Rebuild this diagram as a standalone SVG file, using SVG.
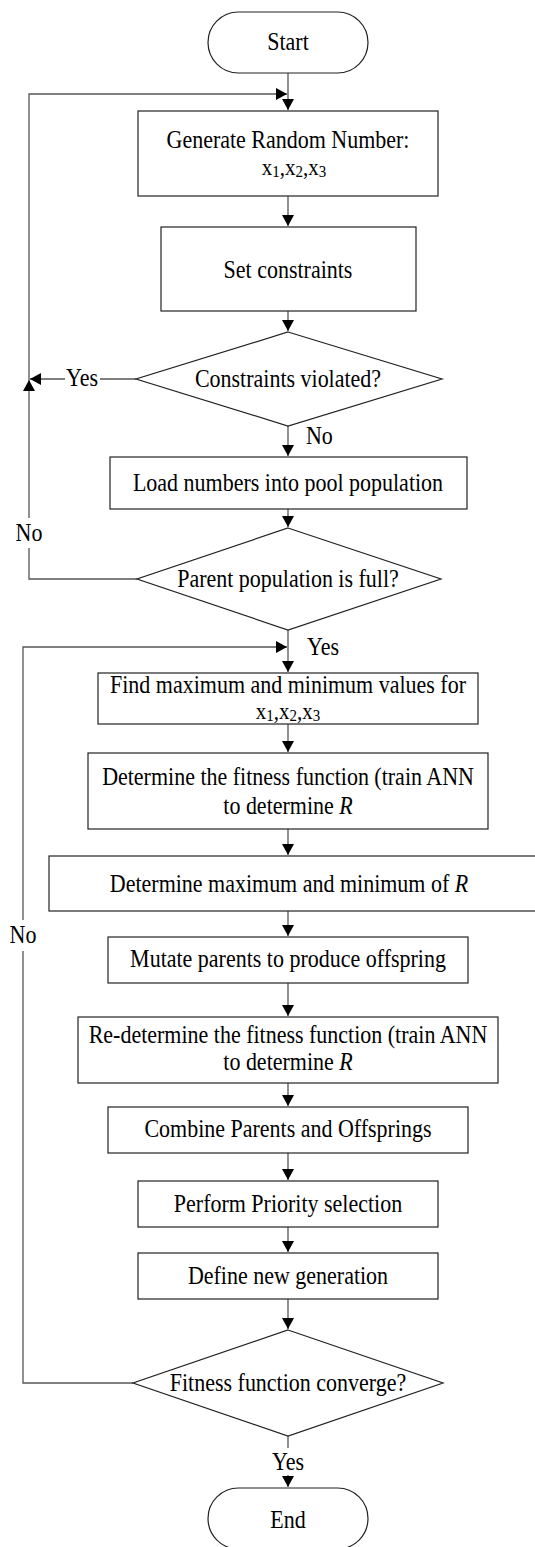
<svg xmlns="http://www.w3.org/2000/svg" width="535" height="1547" viewBox="0 0 535 1547">
<style>
.n{fill:#fff;stroke:#222;stroke-width:1.2}
.c{fill:none;stroke:#555;stroke-width:1.3}
text{font-family:"Liberation Serif","Times New Roman",serif;font-size:22px;fill:#000;text-anchor:middle}
.l{text-anchor:start}
.x{font-size:21px}
.s{font-size:15px}
</style>
<defs>
<marker id="ah" markerUnits="userSpaceOnUse" markerWidth="12" markerHeight="12" refX="11" refY="6" orient="auto">
<path d="M0,0 L11,6 L0,12 z" fill="#000"/>
</marker>
</defs>
<g id="connectors">
<path class="c" d="M288,73 V110" marker-end="url(#ah)"/>
<path class="c" d="M288,196 V226" marker-end="url(#ah)"/>
<path class="c" d="M288,311 V331" marker-end="url(#ah)"/>
<path class="c" d="M136,379 H100"/>
<path class="c" d="M65,379 H30" marker-end="url(#ah)"/>
<path class="c" d="M288,426 V456" marker-end="url(#ah)"/>
<path class="c" d="M288,509 V527" marker-end="url(#ah)"/>
<path class="c" d="M137,579 H29 V548"/>
<path class="c" d="M29,518 V380" marker-end="url(#ah)"/>
<path class="c" d="M29,380 V94 H287" marker-end="url(#ah)"/>
<path class="c" d="M288,630 V672" marker-end="url(#ah)"/>
<path class="c" d="M133,1383 H23 V951"/>
<path class="c" d="M23,920 V647 H287" marker-end="url(#ah)"/>
<path class="c" d="M288,724 V752" marker-end="url(#ah)"/>
<path class="c" d="M288,829 V855" marker-end="url(#ah)"/>
<path class="c" d="M288,911 V936" marker-end="url(#ah)"/>
<path class="c" d="M288,983 V1016" marker-end="url(#ah)"/>
<path class="c" d="M288,1083 V1106" marker-end="url(#ah)"/>
<path class="c" d="M288,1153 V1180" marker-end="url(#ah)"/>
<path class="c" d="M288,1227 V1252" marker-end="url(#ah)"/>
<path class="c" d="M288,1299 V1329" marker-end="url(#ah)"/>
<path class="c" d="M288,1436 V1448"/>
<path class="c" d="M288,1475 V1487" marker-end="url(#ah)"/>
<text transform="translate(82,386) scale(1,1.15)">Yes</text>
<text class="l" transform="translate(306,444) scale(1,1.15)">No</text>
<text transform="translate(29,541) scale(1,1.15)">No</text>
<text class="l" transform="translate(307,655) scale(1,1.15)">Yes</text>
<text transform="translate(23,943) scale(1,1.15)">No</text>
<text transform="translate(288,1470) scale(1,1.15)">Yes</text>
</g>
<g id="start"><rect class="n" x="208" y="12" width="160" height="61" rx="30.5"/><text transform="translate(288,50) scale(1,1.15)">Start</text></g>
<g id="gen"><rect class="n" x="138" y="111" width="300" height="85"/><text transform="translate(288,148) scale(1,1.15)">Generate Random Number:</text><text class="x" transform="translate(294,175) scale(1,1.1)">x<tspan class="s" dy="2">1</tspan><tspan dy="-2">,x</tspan><tspan class="s" dy="2">2</tspan><tspan dy="-2">,x</tspan><tspan class="s" dy="2">3</tspan></text></g>
<g id="setc"><rect class="n" x="161" y="227" width="255" height="84"/><text transform="translate(288,278) scale(1,1.15)">Set constraints</text></g>
<g id="viol"><polygon class="n" points="288,332 442,379 288,426 136,379"/><text transform="translate(288,387) scale(1,1.15)">Constraints violated?</text></g>
<g id="load"><rect class="n" x="110" y="457" width="357" height="52"/><text transform="translate(288,491) scale(1,1.15)">Load numbers into pool population</text></g>
<g id="full"><polygon class="n" points="288,528 441,579 288,630 137,579"/><text transform="translate(288,587) scale(1,1.15)">Parent population is full?</text></g>
<g id="findmax"><rect class="n" x="98" y="673" width="380" height="51"/><text transform="translate(288,693) scale(1,1.15)">Find maximum and minimum values for</text><text class="x" transform="translate(288,719) scale(1,1.1)">x<tspan class="s" dy="2">1</tspan><tspan dy="-2">,x</tspan><tspan class="s" dy="2">2</tspan><tspan dy="-2">,x</tspan><tspan class="s" dy="2">3</tspan></text></g>
<g id="fit"><rect class="n" x="88" y="753" width="400" height="76"/><text transform="translate(288,785) scale(1,1.15)">Determine the fitness function (train ANN</text><text transform="translate(288,814) scale(1,1.15)">to determine <tspan font-style="italic">R</tspan></text></g>
<g id="maxr"><rect class="n" x="49" y="856" width="495" height="55"/><text transform="translate(289,892) scale(1,1.15)">Determine maximum and minimum of <tspan font-style="italic">R</tspan></text></g>
<g id="mutate"><rect class="n" x="108" y="937" width="360" height="46"/><text transform="translate(288,967) scale(1,1.15)">Mutate parents to produce offspring</text></g>
<g id="refit"><rect class="n" x="78" y="1017" width="420" height="66"/><text transform="translate(288,1043) scale(1,1.15)">Re-determine the fitness function (train ANN</text><text transform="translate(288,1070) scale(1,1.15)">to determine <tspan font-style="italic">R</tspan></text></g>
<g id="combine"><rect class="n" x="108" y="1107" width="360" height="46"/><text transform="translate(288,1137) scale(1,1.15)">Combine Parents and Offsprings</text></g>
<g id="priority"><rect class="n" x="138" y="1181" width="300" height="46"/><text transform="translate(288,1212) scale(1,1.15)">Perform Priority selection</text></g>
<g id="newgen"><rect class="n" x="138" y="1253" width="300" height="46"/><text transform="translate(288,1284) scale(1,1.15)">Define new generation</text></g>
<g id="conv"><polygon class="n" points="288,1330 443,1383 288,1436 133,1383"/><text transform="translate(288,1391) scale(1,1.15)">Fitness function converge?</text></g>
<g id="end"><rect class="n" x="208" y="1488" width="160" height="61" rx="30.5"/><text transform="translate(288,1528) scale(1,1.15)">End</text></g>
</svg>
